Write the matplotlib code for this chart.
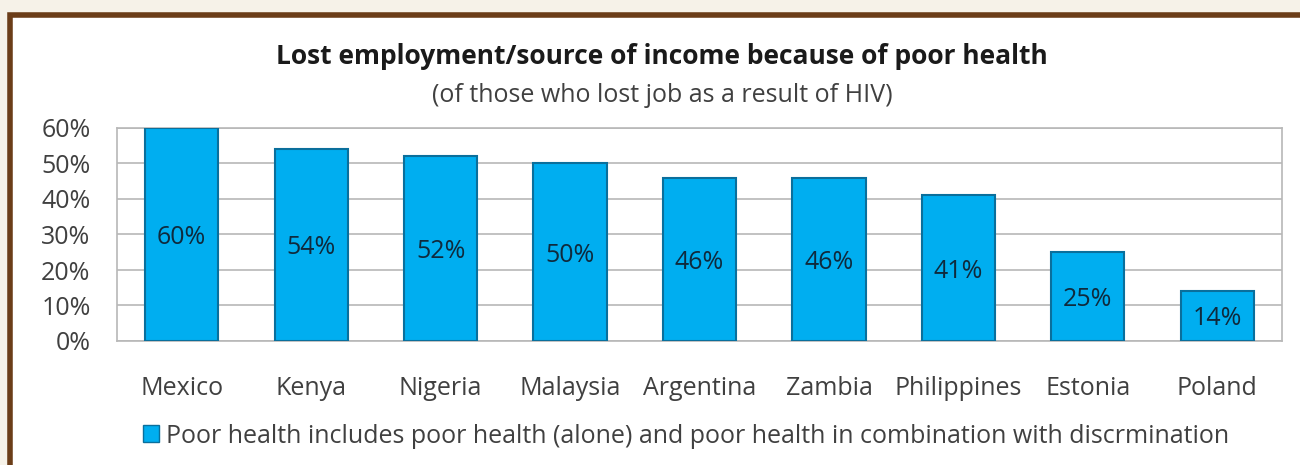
import matplotlib.pyplot as plt
import matplotlib.patches as mpatches
import numpy as np

plt.rcParams['font.family'] = ['Open Sans', 'DejaVu Sans']

countries = ['Mexico', 'Kenya', 'Nigeria', 'Malaysia', 'Argentina', 'Zambia',
             'Philippines', 'Estonia', 'Poland']
values = [60, 54, 52, 50, 46, 46, 41, 25, 14]
yticks = [0, 10, 20, 30, 40, 50, 60]

W, H = 1300, 465
fig = plt.figure(figsize=(13, 4.65), dpi=100)
fig.patch.set_facecolor('#f6f2e8')

# white panel with brown frame
fig.patches.append(mpatches.Rectangle((10 / W, -0.1), 1.2, (H - 15) / H + 0.1,
                                      transform=fig.transFigure, facecolor='white',
                                      edgecolor='#6b3d18', linewidth=4, zorder=0))

ax = fig.add_axes([117 / W, 1 - 341 / H, (1282 - 117) / W, (341 - 128) / H])
ax.set_zorder(2)
ax.set_facecolor('white')
x = np.arange(len(countries))
bars = ax.bar(x, values, width=0.565, color='#00aef0', edgecolor='#0a6f9c',
              linewidth=1.5, zorder=3)
for b, v in zip(bars, values):
    ax.text(b.get_x() + b.get_width() / 2, v / 2 - 0.8, f'{v}%', ha='center', va='center',
            fontsize=18, color='#0f2a3d', zorder=4)

ax.set_xlim(-0.5, len(countries) - 0.5)
ax.set_ylim(0, 60)
ax.set_yticks(yticks)
ax.set_yticklabels([f'{t}%' for t in yticks], fontsize=18, color='#404040')
ax.set_xticks(x)
ax.set_xticklabels(countries, fontsize=18, color='#404040')
ax.tick_params(axis='both', length=0)
ax.tick_params(axis='x', pad=25)
ax.tick_params(axis='y', pad=19)
ax.yaxis.grid(True, color='#b8b8b8', linewidth=1.2, zorder=0)
for s in ax.spines.values():
    s.set_color('#b8b8b8')
    s.set_linewidth(1.2)

fig.text(662 / W, 1 - 57 / H, 'Lost employment/source of income because of poor health',
         ha='center', va='center', fontsize=19, fontweight='bold', color='#1a1a1a', zorder=5)
fig.text(662 / W, 1 - 96 / H, '(of those who lost job as a result of HIV)',
         ha='center', va='center', fontsize=18, color='#404040', zorder=5)

handle = mpatches.Patch(facecolor='#00aef0', edgecolor='#0a6f9c')
leg = fig.legend([handle], ['Poor health includes poor health (alone) and poor health in combination with discrmination'],
                 loc='center left', bbox_to_anchor=(120 / W, 1 - 436 / H), frameon=False,
                 fontsize=18, handlelength=0.65, handleheight=0.65, handletextpad=0.3,
                 labelcolor='#404040')
leg.set_zorder(5)

fig.savefig('out.png', dpi=100, facecolor=fig.get_facecolor())
